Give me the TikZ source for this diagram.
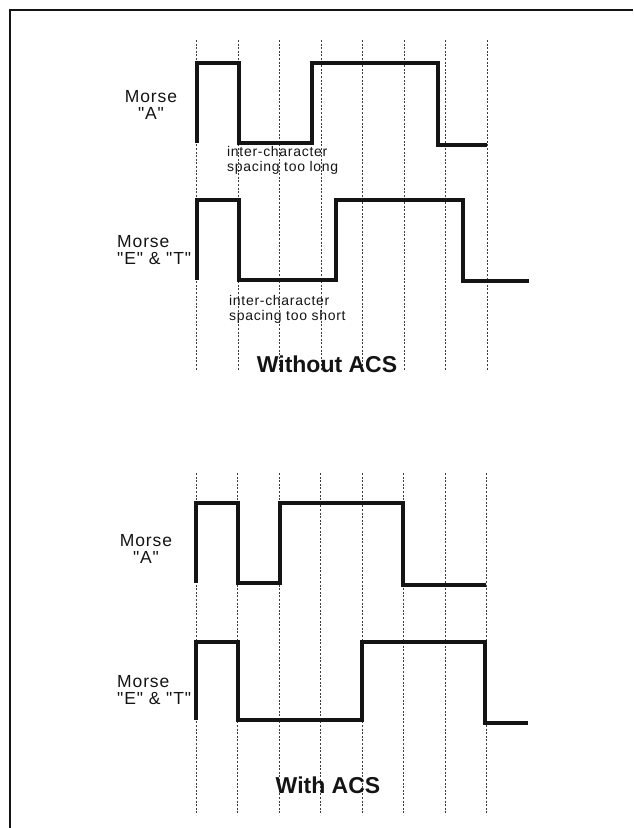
\documentclass[tikz,border=0pt]{standalone}
\usepackage{fontspec}
\setmainfont{Liberation Sans}
\newfontfamily\spacedfont{Liberation Sans}[LetterSpace=5]
\usepackage{tikz}
\usetikzlibrary{positioning}
\definecolor{inkblack}{RGB}{20,20,20}
\definecolor{gridgray}{RGB}{60,60,60}
\newcommand{\dq}{\symbol{34}}
\tikzset{
  wave/.style={line width=3.2pt, color=inkblack, line join=miter},
  gridline/.style={line width=0.9pt, color=gridgray, dash pattern=on 2pt off 1.6pt},
  frame/.style={line width=1.8pt, color=inkblack},
  siglabel/.style={inner sep=0pt, font=\spacedfont\fontsize{17.5}{17}\selectfont, text=inkblack},
  note/.style={inner sep=0pt, align=left, font=\spacedfont\fontsize{14}{15}\selectfont, text=inkblack},
  caption/.style={inner sep=0pt, font=\fontsize{23}{24}\selectfont\bfseries, text=inkblack}
}

\begin{document}
\begin{tikzpicture}[x=1pt, y=-1pt]
  \useasboundingbox (0,0) rectangle (633,828);
  % Frame
  \draw[frame] (10,828) -- (10,10) -- (633,10);

  % Time grid
  \foreach \k in {0,...,7} {
    \draw[gridline] ({196.7+41.5*\k},40) -- ({196.7+41.5*\k},370);
    \draw[gridline] ({196.0+41.5*\k},473) -- ({196.0+41.5*\k},815);
  }

  % Without ACS
  \draw[wave] (197,143) -- (197,63) -- (239,63) -- (239,143) -- (312,143)
    -- (312,63) -- (438,63) -- (438,145) -- (487,145);
  \draw[wave] (197,280) -- (197,200) -- (239,200) -- (239,280) -- (336,280)
    -- (336,200) -- (463,200) -- (463,281) -- (529,281);

  \node[siglabel, align=center] (morseA) at (151,105) {Morse\\\dq A\dq};
  \node[siglabel, align=left, anchor=west] (morseET) at (117,250) {Morse\\\dq E\dq\ \& \dq T\dq};
  \node[note, anchor=west] (gaplong) at (227,160) {inter-character\\spacing too long};
  \node[note, anchor=west] (gapshort) at (229,309) {inter-character\\spacing too short};
  \node[caption] (without) at (327,364) {Without ACS};

  % With ACS
  \draw[wave] (196,583) -- (196,503) -- (238,503) -- (238,583) -- (280,583)
    -- (280,503) -- (403,503) -- (403,585) -- (486,585);
  \draw[wave] (196,720) -- (196,642) -- (238,642) -- (238,720) -- (362,720)
    -- (362,642) -- (485,642) -- (485,723) -- (528,723);

  \node[siglabel, align=center] (morseAacs) at (146,549) {Morse\\\dq A\dq};
  \node[siglabel, align=left, anchor=west] (morseETacs) at (117,690) {Morse\\\dq E\dq\ \& \dq T\dq};
  \node[caption] (with) at (328,785) {With ACS};
\end{tikzpicture}
\end{document}
